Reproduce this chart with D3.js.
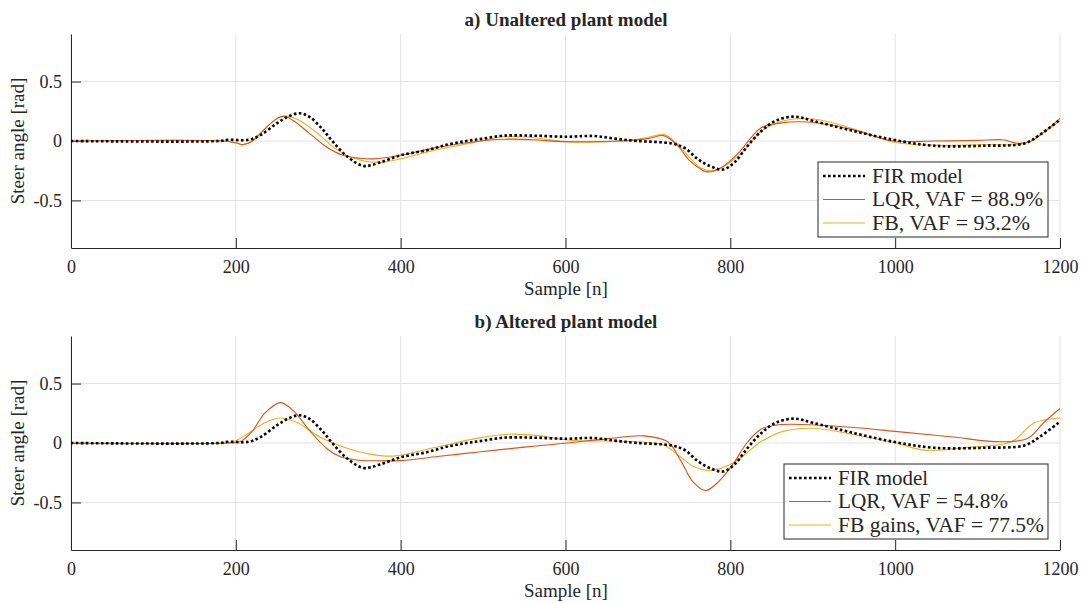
<!DOCTYPE html>
<html>
<head>
<meta charset="utf-8">
<script src="https://cdn.jsdelivr.net/npm/d3@7"></script>
<style>
  body { margin: 0; background: #fff; }
  svg text { font-family: "Liberation Serif", "Times New Roman", Tinos, "DejaVu Serif", serif; fill: #262626; }
</style>
</head>
<body>
<svg id="chart" width="1081" height="603"></svg>
<script>
// FIR model response, same in both panels: [sample, rad]
const firModel = [[0,0],[180,0],[190,0.01],[215,0.01],[230,0.05],[250,0.15],[265,0.21],[278,0.233],[290,0.2],[305,0.1],[317,0],[335,-0.13],[355,-0.21],[375,-0.18],[400,-0.12],[430,-0.08],[457,-0.03],[480,0],[500,0.02],[525,0.045],[560,0.045],[602,0.036],[634,0.042],[660,0.02],[687,0],[728,-0.02],[745,-0.06],[760,-0.15],[775,-0.21],[791,-0.24],[805,-0.18],[820,-0.05],[837,0.08],[855,0.17],[877,0.205],[900,0.17],[946,0.09],[998,0.01],[1047,-0.04],[1108,-0.04],[1157,-0.02],[1175,0.05],[1200,0.18]];

// a) unaltered plant
const lqrA = [[0,0],[185,0],[200,-0.015],[209,-0.03],[220,0.0],[235,0.1],[248,0.18],[258,0.21],[270,0.17],[290,0.06],[310,-0.05],[330,-0.12],[350,-0.145],[367,-0.15],[400,-0.12],[440,-0.06],[497,0],[525,0.015],[560,0.01],[600,-0.005],[667,0],[700,0.02],[719,0.045],[735,-0.03],[750,-0.16],[765,-0.24],[772,-0.26],[790,-0.22],[810,-0.1],[837,0.11],[860,0.15],[894,0.16],[946,0.1],[998,0],[1047,0],[1100,0.005],[1130,0.01],[1150,-0.02],[1165,0.0],[1185,0.1],[1200,0.19]];
const fbA = [[0,0],[185,0],[200,-0.015],[209,-0.03],[220,0.0],[235,0.1],[248,0.18],[260,0.21],[275,0.18],[300,0.06],[320,-0.06],[345,-0.15],[375,-0.18],[400,-0.15],[440,-0.08],[497,0],[525,0.036],[560,0.03],[600,-0.005],[667,0],[700,0.03],[719,0.056],[735,-0.02],[752,-0.15],[765,-0.23],[778,-0.25],[795,-0.2],[815,-0.09],[837,0.08],[865,0.17],[901,0.185],[946,0.11],[998,-0.01],[1047,-0.035],[1108,-0.03],[1157,-0.02],[1180,0.07],[1200,0.17]];

// b) altered plant
const lqrB = [[0,0],[190,0],[205,0.01],[220,0.1],[235,0.25],[254,0.34],[270,0.27],[290,0.1],[311,-0.05],[327,-0.116],[350,-0.145],[375,-0.15],[400,-0.148],[450,-0.11],[497,-0.074],[550,-0.035],[602,0],[650,0.035],[695,0.06],[724,0.01],[740,-0.15],[755,-0.33],[770,-0.4],[785,-0.33],[804,-0.17],[820,0],[837,0.116],[855,0.15],[873,0.158],[950,0.13],[1003,0.096],[1070,0.05],[1128,0.01],[1161,0.04],[1180,0.17],[1200,0.29]];
const fbB = [[0,0],[185,0],[197,0.01],[215,0.08],[235,0.17],[254,0.21],[275,0.17],[302,0.05],[335,-0.045],[360,-0.09],[391,-0.11],[440,-0.04],[497,0.045],[533,0.074],[570,0.06],[602,0.025],[687,0.01],[719,-0.017],[740,-0.12],[756,-0.2],[776,-0.23],[804,-0.167],[837,0.01],[865,0.1],[901,0.124],[950,0.07],[1003,-0.003],[1035,-0.06],[1088,-0.037],[1141,0.01],[1168,0.167],[1200,0.21]];

const xTicks = [0, 200, 400, 600, 800, 1000, 1200];
const yTicks = [-0.5, 0, 0.5];

const panels = [
  { title: "a) Unaltered plant model", top: 34, lqr: lqrA, fb: fbA,
    labels: ["FIR model", "LQR, VAF = 88.9%", "FB, VAF = 93.2%"],
    widths: [91, 171, 158], legendX: 818 },
  { title: "b) Altered plant model", top: 336, lqr: lqrB, fb: fbB,
    labels: ["FIR model", "LQR, VAF = 54.8%", "FB gains, VAF = 77.5%"],
    widths: [90, 170, 206], legendX: 784 }
];

const svg = d3.select("#chart");
const left = 71, right = 1060, plotH = 214;
const lqrColor = "#d95319", fbColor = "#edb120";
const serif = '"Liberation Serif", "Times New Roman", Tinos, "DejaVu Serif", serif';

const x = d3.scaleLinear().domain([0, 1200]).range([left, right]);

panels.forEach((p) => {
  const y = d3.scaleLinear().domain([-0.9, 0.9]).range([p.top + plotH, p.top]);
  const g = svg.append("g");

  // grid
  g.selectAll(".gx").data(xTicks).enter().append("line")
    .attr("x1", (d) => x(d)).attr("x2", (d) => x(d))
    .attr("y1", p.top).attr("y2", p.top + plotH)
    .attr("stroke", "#e3e3e3");
  g.selectAll(".gy").data(yTicks).enter().append("line")
    .attr("x1", left).attr("x2", right)
    .attr("y1", (d) => y(d)).attr("y2", (d) => y(d))
    .attr("stroke", "#e3e3e3");

  // axes, ticks pointing in
  const xa = g.append("g").attr("transform", `translate(0,${p.top + plotH})`)
    .call(d3.axisBottom(x).tickValues(xTicks).tickFormat(d3.format("d"))
      .tickSizeInner(-10).tickSizeOuter(0).tickPadding(12));
  const ya = g.append("g").attr("transform", `translate(${left},0)`)
    .call(d3.axisLeft(y).tickValues(yTicks).tickSizeInner(-10).tickSizeOuter(0).tickPadding(9)
      .tickFormat((d) => (d === 0 ? "0" : String(d))));
  [xa, ya].forEach((a) => {
    a.attr("font-family", null);
    a.select(".domain").attr("stroke", "#262626");
    a.selectAll(".tick line").attr("stroke", "#262626");
    a.selectAll("text").style("font-family", serif).style("font-size", "18px").attr("fill", "#262626");
  });

  // lines
  const line = d3.line().x((d) => x(d[0])).y((d) => y(d[1])).curve(d3.curveCatmullRom.alpha(0.5));
  g.append("path").datum(p.fb).attr("d", line).attr("fill", "none")
    .attr("stroke", fbColor).attr("stroke-width", 1.1);
  g.append("path").datum(p.lqr).attr("d", line).attr("fill", "none")
    .attr("stroke", lqrColor).attr("stroke-width", 1.1);
  g.append("path").datum(firModel).attr("d", line).attr("fill", "none")
    .attr("stroke", "#000").attr("stroke-width", 2.6).attr("stroke-dasharray", "2.6,2.4");

  // labels
  g.append("text").attr("x", 566).attr("y", p.top - 8).attr("text-anchor", "middle")
    .style("font-family", serif).style("font-size", "19px").style("font-weight", "bold")
    .attr("fill", "#000").text(p.title);
  g.append("text").attr("x", 566).attr("y", p.top + plotH + 47).attr("text-anchor", "middle")
    .style("font-family", serif).style("font-size", "19px").text("Sample [n]");
  g.append("text").attr("transform", `translate(24,${y(0)}) rotate(-90)`).attr("text-anchor", "middle")
    .style("font-family", serif).style("font-size", "19px").text("Steer angle [rad]");

  // legend
  const lg = g.append("g").attr("transform", `translate(${p.legendX},${p.top + 128})`);
  lg.append("rect").attr("width", 1048 - p.legendX).attr("height", 75)
    .attr("fill", "#fff").attr("stroke", "#262626").attr("stroke-width", 1);
  const items = [
    { c: "#000", w: 2.6, dash: "2.6,2.4" },
    { c: lqrColor, w: 1.1, dash: null },
    { c: fbColor, w: 1.1, dash: null }
  ];
  items.forEach((it, i) => {
    const cy = 14 + i * 23.5;
    lg.append("line").attr("x1", 5).attr("x2", 47).attr("y1", cy).attr("y2", cy)
      .attr("stroke", it.c).attr("stroke-width", it.w).attr("stroke-dasharray", it.dash);
    lg.append("text").attr("x", 54).attr("y", cy + 6.5)
      .style("font-family", serif).style("font-size", "20px")
      .attr("textLength", p.widths[i]).attr("lengthAdjust", "spacingAndGlyphs")
      .attr("fill", "#000").text(p.labels[i]);
  });
});
</script>
</body>
</html>
